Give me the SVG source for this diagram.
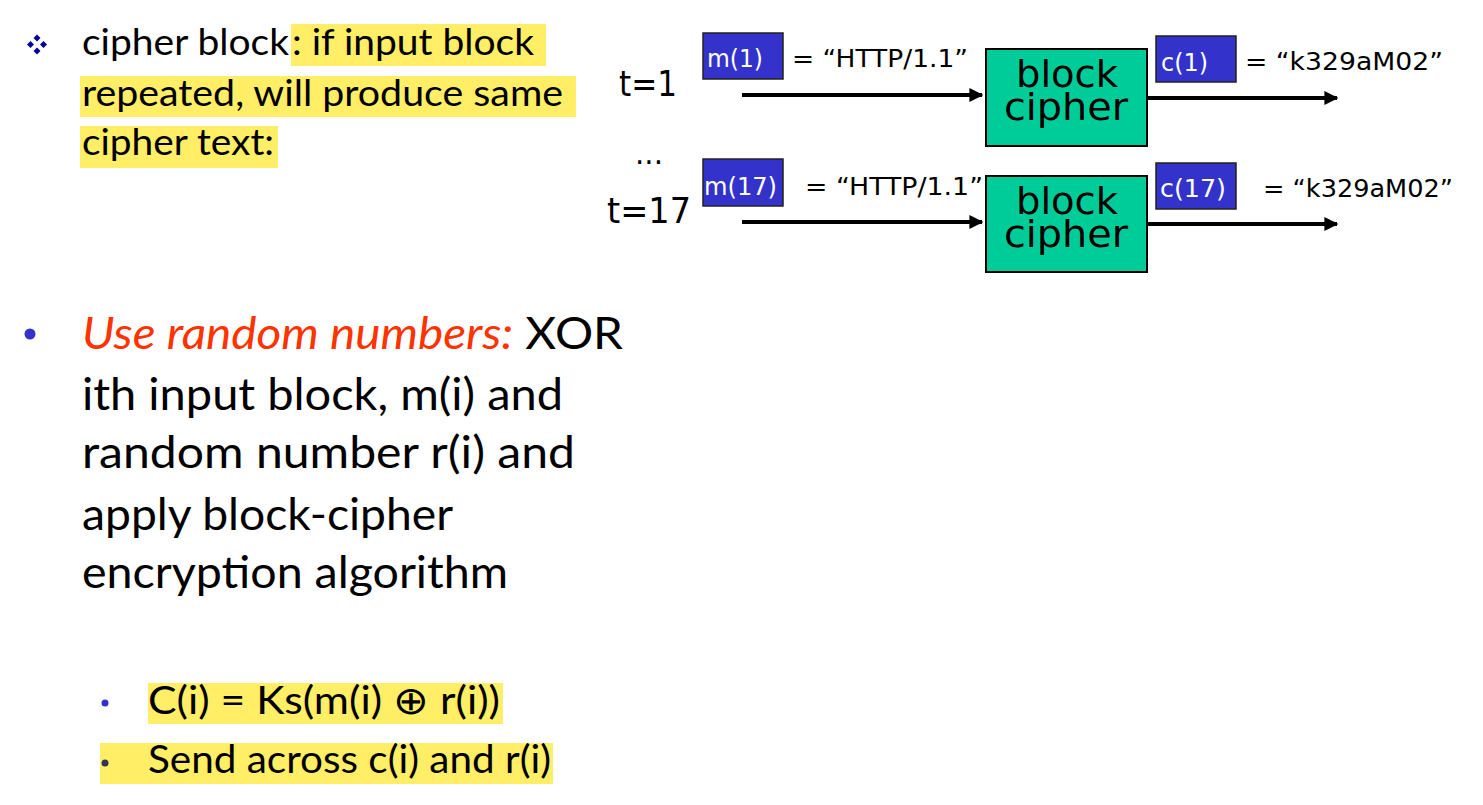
<svg xmlns="http://www.w3.org/2000/svg" width="1483" height="805" viewBox="0 0 1483 805">
<defs>
<style>
.gs{font-family:Lato,"Open Sans","Liberation Sans",sans-serif;fill:#000}
.cs{font-family:"DejaVu Sans","Open Sans",sans-serif;fill:#000}
.hl{fill:#FFEE66}
.lbl{fill:#3333CC;stroke:#222;stroke-width:1.5}
.lbt{font-family:"DejaVu Sans","Open Sans",sans-serif;fill:#fff;font-size:25px}
.bc{fill:#00CC99;stroke:#000;stroke-width:2}
.conn{stroke:#000;stroke-width:4;fill:none}
</style>
<marker id="ah" viewBox="0 0 10 10" refX="9" refY="5" markerWidth="3.5" markerHeight="3.5" markerUnits="strokeWidth" orient="auto">
<path d="M0,0 L10,5 L0,10 z" fill="#000"/>
</marker>
</defs>

<g id="top-text">
<rect class="hl" x="291" y="24" width="255" height="42"/>
<rect class="hl" x="80" y="76" width="496" height="41"/>
<rect class="hl" x="80" y="126" width="198" height="42"/>
<g fill="#000099">
<path d="M37,34.5 l3.5,3.5 l-3.5,3.5 l-3.5,-3.5z"/>
<path d="M37,47.5 l3.5,3.5 l-3.5,3.5 l-3.5,-3.5z"/>
<path d="M30.5,41 l3.5,3.5 l-3.5,3.5 l-3.5,-3.5z"/>
<path d="M43.5,41 l3.5,3.5 l-3.5,3.5 l-3.5,-3.5z"/>
</g>
<text class="gs" x="82" y="55" font-size="37" textLength="207" lengthAdjust="spacingAndGlyphs">cipher block</text>
<text class="gs" x="292" y="55" font-size="37" textLength="242" lengthAdjust="spacingAndGlyphs">: if input block</text>
<text class="gs" x="82" y="106" font-size="37" textLength="481" lengthAdjust="spacingAndGlyphs">repeated, will produce same</text>
<text class="gs" x="82" y="155" font-size="37" textLength="192" lengthAdjust="spacingAndGlyphs">cipher text:</text>
</g>

<g id="time-labels">
<text class="cs" x="619" y="96" font-size="36" textLength="58" lengthAdjust="spacingAndGlyphs">t=1</text>
<text class="cs" x="635" y="164" font-size="30" textLength="28" lengthAdjust="spacingAndGlyphs">...</text>
<text class="cs" x="607" y="223" font-size="36" textLength="84" lengthAdjust="spacingAndGlyphs">t=17</text>
</g>

<g id="m1">
<rect class="lbl" x="703" y="33" width="80" height="46"/>
<text class="lbt" x="707" y="67" textLength="56" lengthAdjust="spacingAndGlyphs">m(1)</text>
<text class="cs" x="792" y="67" font-size="25" textLength="176" lengthAdjust="spacingAndGlyphs">= “HTTP/1.1”</text>
</g>
<g id="m17">
<rect class="lbl" x="703" y="159" width="80" height="47"/>
<text class="lbt" x="704" y="195" textLength="73" lengthAdjust="spacingAndGlyphs">m(17)</text>
<text class="cs" x="805" y="195" font-size="25" textLength="178" lengthAdjust="spacingAndGlyphs">= “HTTP/1.1”</text>
</g>

<g id="cipher1">
<rect class="bc" x="986" y="49" width="161" height="97"/>
<text class="cs" font-size="38" text-anchor="middle"><tspan x="1067" y="87" textLength="102" lengthAdjust="spacingAndGlyphs">block</tspan><tspan x="1066" y="120" textLength="124" lengthAdjust="spacingAndGlyphs">cipher</tspan></text>
</g>
<g id="cipher17">
<rect class="bc" x="986" y="176" width="161" height="96"/>
<text class="cs" font-size="38" text-anchor="middle"><tspan x="1067" y="214" textLength="102" lengthAdjust="spacingAndGlyphs">block</tspan><tspan x="1066" y="247" textLength="124" lengthAdjust="spacingAndGlyphs">cipher</tspan></text>
</g>

<g id="c1">
<rect class="lbl" x="1156" y="36" width="80" height="46"/>
<text class="lbt" x="1161" y="71" textLength="47" lengthAdjust="spacingAndGlyphs">c(1)</text>
<text class="cs" x="1245" y="70" font-size="25" textLength="198" lengthAdjust="spacingAndGlyphs">= “k329aM02”</text>
</g>
<g id="c17">
<rect class="lbl" x="1156" y="163" width="80" height="46"/>
<text class="lbt" x="1160" y="197" textLength="66" lengthAdjust="spacingAndGlyphs">c(17)</text>
<text class="cs" x="1263" y="197" font-size="25" textLength="190" lengthAdjust="spacingAndGlyphs">= “k329aM02”</text>
</g>

<g id="connectors">
<line class="conn" x1="742" y1="95" x2="982" y2="95" marker-end="url(#ah)"/>
<line class="conn" x1="1148" y1="98" x2="1337" y2="98" marker-end="url(#ah)"/>
<line class="conn" x1="742" y1="222" x2="982" y2="222" marker-end="url(#ah)"/>
<line class="conn" x1="1148" y1="224" x2="1337" y2="224" marker-end="url(#ah)"/>
</g>

<g id="bottom-text">
<circle cx="30" cy="334" r="5.5" fill="#3333CC"/>
<text class="gs" x="82" y="349" font-size="44" textLength="541" lengthAdjust="spacingAndGlyphs"><tspan fill="#FF3300" font-style="italic">Use random numbers:</tspan> XOR</text>
<text class="gs" x="82" y="410" font-size="44" textLength="481" lengthAdjust="spacingAndGlyphs">ith input block, m(i) and</text>
<text class="gs" x="82" y="468" font-size="44" textLength="493" lengthAdjust="spacingAndGlyphs">random number r(i) and</text>
<text class="gs" x="82" y="530" font-size="44" textLength="371" lengthAdjust="spacingAndGlyphs">apply block-cipher</text>
<text class="gs" x="82" y="588" font-size="44" textLength="426" lengthAdjust="spacingAndGlyphs">encryption algorithm</text>
<rect class="hl" x="148" y="683" width="355" height="41"/>
<circle cx="105" cy="703" r="3.5" fill="#3333CC"/>
<text class="gs" x="148" y="714" font-size="39" textLength="352" lengthAdjust="spacingAndGlyphs">C(i) = Ks(m(i) ⊕ r(i))</text>
<rect class="hl" x="100" y="743" width="453" height="41"/>
<circle cx="105" cy="763" r="3.5" fill="#333355"/>
<text class="gs" x="148" y="773" font-size="39" textLength="403" lengthAdjust="spacingAndGlyphs">Send across c(i) and r(i)</text>
</g>
</svg>
